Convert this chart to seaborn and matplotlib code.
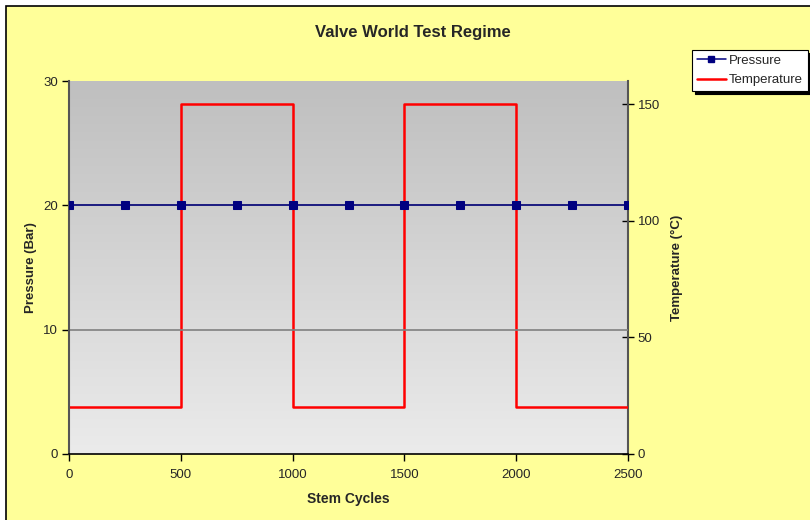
import numpy as np
import matplotlib
matplotlib.use("Agg")
import matplotlib.pyplot as plt
import seaborn as sns
from matplotlib.colors import LinearSegmentedColormap
from matplotlib.lines import Line2D
from matplotlib.patches import Rectangle

# data
pressure_cycles = [0, 250, 500, 750, 1000, 1250, 1500, 1750, 2000, 2250, 2500]
pressure_bar = [20, 20, 20, 20, 20, 20, 20, 20, 20, 20, 20]
temp_cycles = [0, 500, 500, 1000, 1000, 1500, 1500, 2000, 2000, 2500]
temp_c = [20, 20, 150, 150, 20, 20, 150, 150, 20, 20]
x_ticks = [0, 500, 1000, 1500, 2000, 2500]
p_ticks = [0, 10, 20, 30]
t_ticks = [0, 50, 100, 150]

sns.set_theme(style="white")
plt.rcParams["font.family"] = ["Liberation Sans", "DejaVu Sans"]

W, H = 810, 520
fig = plt.figure(figsize=(W / 100, H / 100), dpi=100, facecolor="white")

# yellow chart area with black border (page clipped above/left)
fig.patches.append(Rectangle((6 / W, -0.1), 1.2, 1 - 6 / H + 0.1, transform=fig.transFigure,
                             facecolor="#FFFF99", edgecolor="black", lw=1.2, zorder=-5))

rect = [69 / W, 1 - 454 / H, (628 - 69) / W, (454 - 81) / H]
ax2 = fig.add_axes(rect, zorder=1)   # temperature, drawn behind
ax = fig.add_axes(rect, zorder=2)    # pressure, on top
ax.patch.set_visible(False)

# grey gradient plot area, darker at the top
grad = np.linspace(0, 1, 256).reshape(-1, 1)
cmap = LinearSegmentedColormap.from_list("g", ["#BFBFBF", "#EBEBEB"])
ax2.imshow(grad, cmap=cmap, extent=[0, 2500, 0, 160], origin="upper",
           aspect="auto", zorder=0)

sns.lineplot(x=temp_cycles, y=temp_c, ax=ax2, color="#FF0000", lw=1.8,
             estimator=None, sort=False, zorder=3)
ax2.set_xlim(0, 2500)
ax2.set_ylim(0, 160)
ax2.yaxis.tick_right()
ax2.yaxis.set_label_position("right")
ax2.set_xticks([])

for y in [10, 20]:
    ax.axhline(y, color="#808080", lw=1.2, zorder=1)

sns.lineplot(x=pressure_cycles, y=pressure_bar, ax=ax, color="#000080", lw=1.1,
             marker="s", markersize=5.5, markeredgecolor="#000080", zorder=3)
ax.set_xlim(0, 2500)
ax.set_ylim(0, 30)

ax.set_xticks(x_ticks)
ax.set_yticks(p_ticks)
ax2.set_yticks(t_ticks)

for a in (ax, ax2):
    for s in a.spines.values():
        s.set_visible(False)
ax.spines["left"].set_visible(True)
ax.spines["left"].set_color("#555555")
ax.spines["left"].set_linewidth(1.5)
ax.spines["bottom"].set_visible(True)
ax.spines["bottom"].set_color("black")
ax.spines["bottom"].set_linewidth(1.2)
ax2.spines["right"].set_visible(True)
ax2.spines["right"].set_color("#555555")
ax2.spines["right"].set_linewidth(1.5)

ax.tick_params(axis="x", direction="out", length=5, width=1, color="black",
               labelsize=9.5, pad=6, bottom=True)
ax.tick_params(axis="y", direction="out", length=5, width=1, color="black",
               labelsize=9.5, pad=3, left=True)
ax2.tick_params(axis="y", direction="inout", length=8, width=1, color="black",
                labelsize=9.5, pad=3, right=True, left=False)

ax.set_xlabel("Stem Cycles", fontsize=10, fontweight="bold", labelpad=8)
ax.set_ylabel("Pressure (Bar)", fontsize=9.5, fontweight="bold", labelpad=4)
ax2.set_ylabel("Temperature (°C)", fontsize=9.5, fontweight="bold", labelpad=8)
ax.grid(False)
ax2.grid(False)

fig.text(413 / W, 1 - 33 / H, "Valve World Test Regime", ha="center", va="center",
         fontsize=12, fontweight="bold")

handles = [
    Line2D([], [], color="#000080", lw=1.1, marker="s", markersize=5, label="Pressure"),
    Line2D([], [], color="#FF0000", lw=1.8, label="Temperature"),
]
leg = fig.legend(handles=handles, loc="upper left", bbox_to_anchor=(692 / W, 1 - 50 / H),
                 frameon=True, fancybox=False, edgecolor="black", facecolor="white",
                 shadow={"color": "black", "alpha": 1}, fontsize=9.5, borderpad=0.35,
                 handlelength=2.2, handletextpad=0.25, labelspacing=0.55, borderaxespad=0)
leg.get_frame().set_linewidth(0.8)

fig.savefig("out.png", dpi=100)
